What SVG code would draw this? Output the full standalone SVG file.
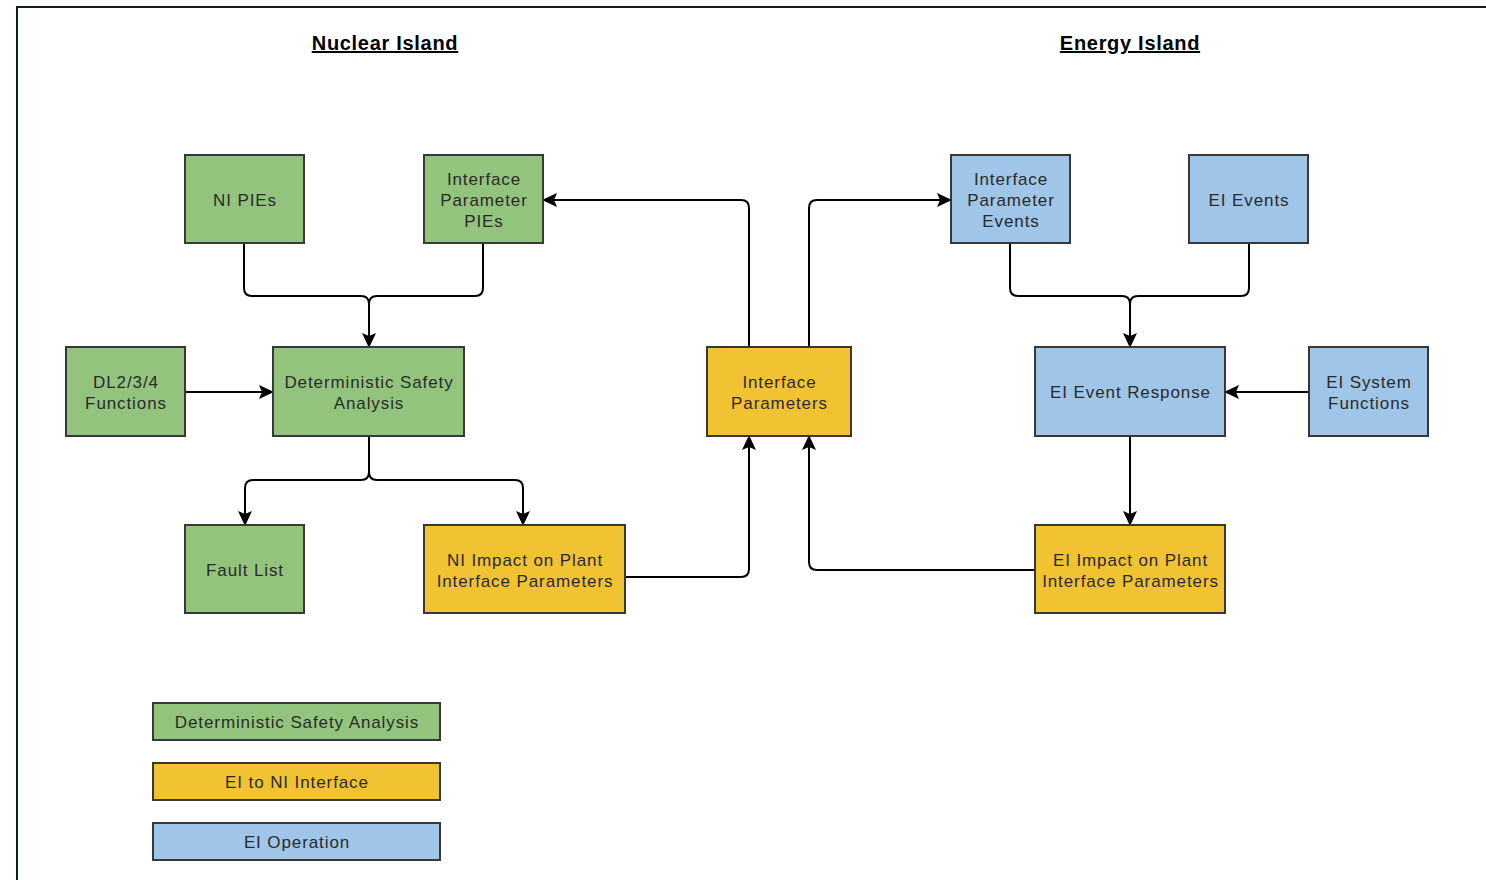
<svg xmlns="http://www.w3.org/2000/svg" width="1486" height="880" viewBox="0 0 1486 880">
<defs>
<marker id="ahb" markerWidth="16" markerHeight="16" refX="14" refY="7" orient="auto" markerUnits="userSpaceOnUse" viewBox="0 0 16 14">
<path d="M0,0 L15,7 L0,14 L3,7 Z" fill="#000"/>
</marker>
</defs>
<style>
.g{fill:#93c47d;stroke:#383838;stroke-width:2}
.y{fill:#f1c232;stroke:#383838;stroke-width:2}
.b{fill:#9fc5e8;stroke:#383838;stroke-width:2}
text{font-family:"Liberation Sans",Arial,sans-serif;font-size:17px;fill:#2a2a2a;text-anchor:middle;letter-spacing:0.9px}
.t{font-size:20px;font-weight:bold;fill:#000;text-decoration:underline;letter-spacing:0.7px}
.c{fill:none;stroke:#000;stroke-width:2;marker-end:url(#ahb)}
.n{fill:none;stroke:#000;stroke-width:2}
</style>
<rect width="1486" height="880" fill="#fff"/>
<path d="M17,880 L17,7 L1486,7" fill="none" stroke="#0f1c2e" stroke-width="2"/>
<text class="t" x="385" y="50">Nuclear Island</text>
<text class="t" x="1130" y="50">Energy Island</text>

<g id="connectors">
<path class="n" d="M244,243 L244,288 Q244,296 252,296 L361,296 Q369,296 369,304"/>
<path class="c" d="M483,243 L483,288 Q483,296 475,296 L377,296 Q369,296 369,304 L369,347"/>
<path class="c" d="M185,392 L273,392"/>
<path class="n" d="M369,436 L369,472 Q369,480 361,480 L253,480 Q245,480 245,488"/>
<path class="c" d="M245,488 L245,525"/>
<path class="c" d="M369,472 Q369,480 377,480 L515,480 Q523,480 523,488 L523,525"/>
<path class="c" d="M625,577 L741,577 Q749,577 749,569 L749,436"/>
<path class="c" d="M749,347 L749,208 Q749,200 741,200 L543,200"/>
<path class="c" d="M809,347 L809,208 Q809,200 817,200 L951,200"/>
<path class="n" d="M1010,243 L1010,288 Q1010,296 1018,296 L1122,296 Q1130,296 1130,304"/>
<path class="c" d="M1249,243 L1249,288 Q1249,296 1241,296 L1138,296 Q1130,296 1130,304 L1130,347"/>
<path class="c" d="M1309,392 L1225,392"/>
<path class="c" d="M1130,436 L1130,525"/>
<path class="c" d="M1035,570 L817,570 Q809,570 809,562 L809,436"/>
</g>

<g id="ni-pies"><rect class="g" x="185" y="155" width="119" height="88"/><text x="245" y="206">NI PIEs</text></g>
<g id="ip-pies"><rect class="g" x="424" y="155" width="119" height="88"/><text x="484" y="185">Interface</text><text x="484" y="206">Parameter</text><text x="484" y="227">PIEs</text></g>
<g id="dl-functions"><rect class="g" x="66" y="347" width="119" height="89"/><text x="126" y="388">DL2/3/4</text><text x="126" y="409">Functions</text></g>
<g id="dsa"><rect class="g" x="273" y="347" width="191" height="89"/><text x="369" y="388">Deterministic Safety</text><text x="369" y="409">Analysis</text></g>
<g id="interface-parameters"><rect class="y" x="707" y="347" width="144" height="89"/><text x="779.5" y="388">Interface</text><text x="779.5" y="409">Parameters</text></g>
<g id="fault-list"><rect class="g" x="185" y="525" width="119" height="88"/><text x="245" y="576">Fault List</text></g>
<g id="ni-impact"><rect class="y" x="424" y="525" width="201" height="88"/><text x="525" y="566">NI Impact on Plant</text><text x="525" y="587">Interface Parameters</text></g>
<g id="ip-events"><rect class="b" x="951" y="155" width="119" height="88"/><text x="1011" y="185">Interface</text><text x="1011" y="206">Parameter</text><text x="1011" y="227">Events</text></g>
<g id="ei-events"><rect class="b" x="1189" y="155" width="119" height="88"/><text x="1249" y="206">EI Events</text></g>
<g id="ei-event-response"><rect class="b" x="1035" y="347" width="190" height="89"/><text x="1130.5" y="398">EI Event Response</text></g>
<g id="ei-system-functions"><rect class="b" x="1309" y="347" width="119" height="89"/><text x="1369" y="388">EI System</text><text x="1369" y="409">Functions</text></g>
<g id="ei-impact"><rect class="y" x="1035" y="525" width="190" height="88"/><text x="1130.5" y="566">EI Impact on Plant</text><text x="1130.5" y="587">Interface Parameters</text></g>

<g id="legend-dsa"><rect class="g" x="153" y="703" width="287" height="37"/><text x="297" y="728">Deterministic Safety Analysis</text></g>
<g id="legend-interface"><rect class="y" x="153" y="763" width="287" height="37"/><text x="297" y="788">EI to NI Interface</text></g>
<g id="legend-operation"><rect class="b" x="153" y="823" width="287" height="37"/><text x="297" y="848">EI Operation</text></g>
</svg>
